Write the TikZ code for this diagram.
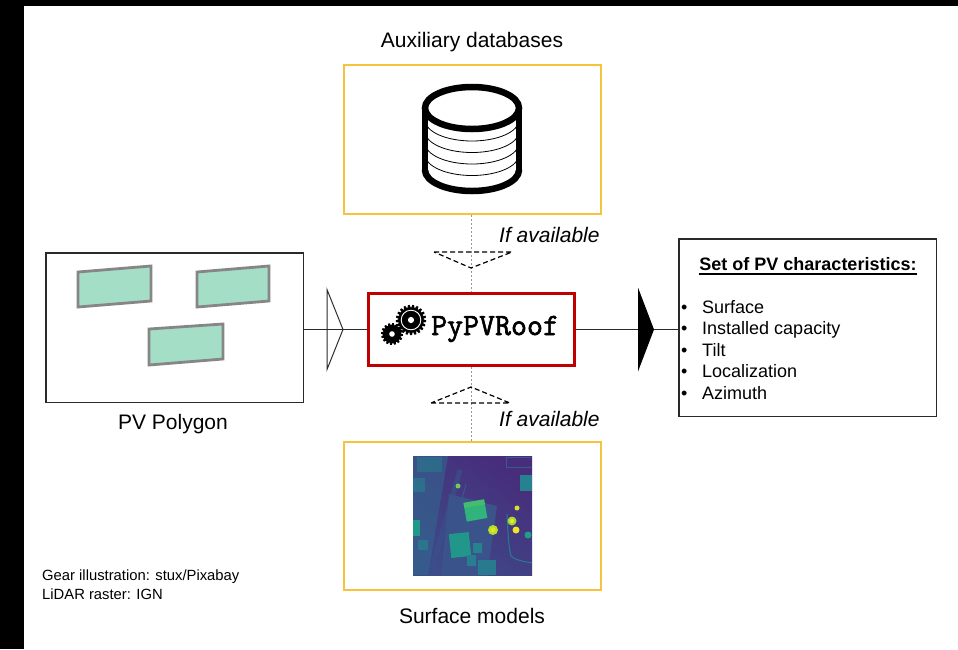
\documentclass[tikz,border=0pt]{standalone}
\usepackage{fontspec}
\setmainfont{Liberation Sans}
\usetikzlibrary{calc}
% thick underline for the box heading
\newcommand\headrule[1]{\setbox0=\hbox{#1}\leavevmode\rlap{\copy0}\rule[-4.6pt]{\wd0}{1.4pt}}
% heavier strokes for the tool name (fill and outline the glyphs)
\newcommand\heavytext[1]{\special{pdf:literal direct 2 Tr 0.6 w}#1\special{pdf:literal direct 0 Tr}}

\definecolor{gold}{HTML}{F7C23C}
\definecolor{corered}{HTML}{C00000}
\definecolor{panelfill}{HTML}{A5DEC6}
\definecolor{panelrim}{HTML}{868686}
\definecolor{edge}{HTML}{2A2A2A}
\definecolor{vA}{HTML}{472D7B}
\definecolor{vB}{HTML}{3E4A89}
\definecolor{vC}{HTML}{31688E}
\definecolor{vD}{HTML}{26828E}
\definecolor{vE}{HTML}{1F9E89}
\definecolor{vF}{HTML}{35B779}
\definecolor{vG}{HTML}{6ECE58}
\definecolor{vH}{HTML}{B5DE2B}
\definecolor{vI}{HTML}{FDE725}

\tikzset{
  pics/gear/.style n args={3}{code={
    \fill ({-0.15*360/#1}:#3) \foreach \k in {1,...,#1}{
      -- ({(\k-0.95)*360/#1}:#2) -- ({(\k-0.55)*360/#1}:#2)
      -- ({(\k-0.35)*360/#1}:#3) -- ({(\k-0.15)*360/#1}:#3) } -- cycle;
  }},
  lbl/.style={inner sep=0pt, font=\fontsize{21}{25}\selectfont},
  note/.style={inner sep=0pt, font=\itshape\fontsize{21}{25}\selectfont},
  itemtxt/.style={inner sep=0pt, font=\fontsize{18}{22}\selectfont},
  credit/.style={inner sep=0pt, font=\fontsize{14.8}{18}\selectfont},
  goldbox/.style={draw=gold, line width=2pt, minimum width=257pt, minimum height=148.5pt, inner sep=0pt},
  plainbox/.style={draw=edge, line width=1.5pt, inner sep=0pt},
  link/.style={draw=edge, line width=1pt},
  optional/.style={draw=gray!80, line width=1.2pt, dash pattern=on 2pt off 2pt},
  hint/.style={draw=black, line width=1.2pt, dash pattern=on 5pt off 3pt},
  panel/.style={draw=panelrim, fill=panelfill, line width=2.8pt},
}

\begin{document}
\begin{tikzpicture}[x=1pt, y=-1pt]
\useasboundingbox (0,0) rectangle (958,649);
\fill[black] (0,0) rectangle (958,649);
\fill[white] (24,6) rectangle (958,649);

% ---- boxes ----
\node[goldbox] (aux) at (472.5,139.5) {};
\node[goldbox] (dsm) at (472.5,516) {};
\node[plainbox, minimum width=257.5pt, minimum height=149.5pt] (pv) at (174.5,327.5) {};
\node[plainbox, minimum width=257.5pt, minimum height=177.5pt] (chars) at (807.5,327.5) {};
\node[draw=corered, line width=3pt, minimum width=206pt, minimum height=72pt, inner sep=0pt] (core) at (471.5,329.5) {};

% ---- captions ----
\node[lbl, anchor=base] (auxlbl) at (472,47) {Auxiliary databases};
\node[lbl, anchor=base] (dsmlbl) at (472,623) {Surface models};
\node[lbl, anchor=base] (pvlbl) at (173,429) {PV Polygon};
\node[note, anchor=base west] (iftop) at (499,242) {If available};
\node[note, anchor=base west] (ifbot) at (499,426) {If available};

% ---- database cylinder ----
\begin{scope}[line width=6.5pt]
  \foreach \c in {120,131.5,143,154.5}{
    \begin{scope}
      \clip (425,\c) rectangle (519,\c+30);
      \draw[line width=0.8pt] (472,\c) ellipse [x radius=47, y radius=21];
    \end{scope}
  }
  \begin{scope}
    \clip (410,170) rectangle (535,205);
    \draw (472,170) ellipse [x radius=47, y radius=21];
  \end{scope}
  \draw (425,108) -- (425,170);
  \draw (519,108) -- (519,170);
  \draw[fill=white] (472,108) ellipse [x radius=47, y radius=21];
\end{scope}

% ---- PV panels ----
\draw[panel] (78,272) -- (151,266) -- (151,301) -- (78,307) -- cycle;
\draw[panel] (197,272) -- (269,266) -- (269,301) -- (197,307) -- cycle;
\draw[panel] (149,329) -- (223,324) -- (223,359) -- (149,365) -- cycle;

% ---- core tool ----
\pic at (411,320) {gear={21}{15.2}{12.6}};
\draw[white, line width=0.9pt] (411,320) circle (9.8);
\fill[white] (411,320) circle (3.1);
\pic at (392,334) {gear={16}{11}{9}};
\fill[white] (392,334) circle (2.8);
\node[inner sep=0pt, anchor=base west, font=\ttfamily\fontsize{31}{31}\selectfont] (corename) at (431,335) {\heavytext{PyPVRoof}};

% ---- characteristics ----
\node[inner sep=0pt, anchor=base, font=\bfseries\fontsize{18}{22}\selectfont] (charstitle) at (808,270) {\headrule{Set of PV characteristics:}};
\foreach \t [count=\i] in {Surface, Installed capacity, Tilt, Localization, Azimuth}{
  \node[itemtxt, anchor=base west] (item\i) at (681,{313+21.5*(\i-1)}) {\makebox[21pt][l]{\textbullet}\t};
}

% ---- connectors ----
\draw[link] (pv.east |- core.west) -- (core.west);
\draw[link] (core.east) -- (core.east -| chars.west);
\coordinate (inhead) at (327,329.5);
\draw[link, line join=miter] (inhead) ++(0,-40) -- ++(16,40) -- ++(-16,40) -- cycle;
\coordinate (outhead) at (638,329.5);
\fill[black] (outhead) ++(0,-42) -- ++(16,42) -- ++(-16,42) -- cycle;

\draw[optional] (core.north |- aux.south) -- (core.north);
\draw[optional] (core.south) -- (core.south |- dsm.north);
\draw[hint] (434,252) -- (512,252) -- (471,268) -- cycle;
\draw[hint] (431,403) -- (510,403) -- (471,387) -- cycle;

% ---- LiDAR raster ----
\begin{scope}
  \clip (413,456) rectangle (532,575);
  \shade[top color=vA, bottom color=vB, shading angle=-35] (413,456) rectangle (532,575);
  \fill[vC, opacity=0.55] (413,456) -- (448,456) -- (428,575) -- (413,575) -- cycle;
  \fill[vD, opacity=0.5] (417,457) rectangle (442,472);
  \fill[vD, opacity=0.6] (413,478) rectangle (425,492);
  \fill[vE!80!vD] (413,520) rectangle (420,536);
  \fill[vD, opacity=0.7] (418,540) rectangle (428,550);
  \draw[vB!80!vC, line width=5pt, opacity=0.7] (430,576) -- (460,470);
  \draw[vC!70!vB, line width=0.8pt] (441,576) -- (466,484);
  \fill[vB!70!vC] (449,494) -- (497,506) -- (487,576) -- (441,576) -- cycle;
  \fill[vF!85!vE, rotate around={10:(475,511)}] (465,501) rectangle (486,520);
  \fill[vG, opacity=0.35, rotate around={10:(475,511)}] (465,501) rectangle (486,506);
  \fill[vE!75!vD, rotate around={6:(460,545)}] (450,533) rectangle (470,557);
  \fill[vD] (473,543) rectangle (482,553);
  \fill[vD!80!vC] (467,555) rectangle (476,566);
  \fill[vD!70!vC] (478,560) rectangle (496,575);
  \fill[vD] (520,475) rectangle (532,491);
  \draw[vC!60!vB, line width=0.8pt] (506,457) rectangle (533,467);
  \draw[vD!70!vC, line width=1pt] (507,514) .. controls (508,535) and (509,550) .. (511,556) .. controls (515,560) and (525,562) .. (533,563);
  \fill[vH] (493,530) circle (5);
  \fill[vI!60!vH] (493,530) circle (2.5);
  \fill[vH!70!vG] (512,521) circle (4.5);
  \fill[vI] (512,521) circle (2);
  \fill[vI!80!vH] (516,530) circle (3.5);
  \fill[vI!70!vG] (517,508) circle (2.5);
  \fill[vE] (528,535) circle (3.5);
  \fill[vG] (458,486) circle (2.5);
\end{scope}

% ---- credits ----
\node[credit, anchor=base west] (credgear) at (42,580) {Gear illustration: stux/Pixabay};
\node[credit, anchor=base west] (credlidar) at (42,599) {LiDAR raster: IGN};
\end{tikzpicture}
\end{document}
